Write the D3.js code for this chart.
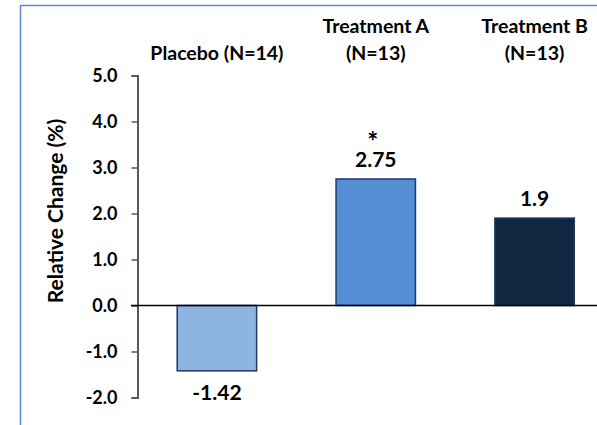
<!DOCTYPE html>
<html>
<head>
<meta charset="utf-8">
<script src="https://cdn.jsdelivr.net/npm/d3@7"></script>
<style>
  body { margin: 0; background: #fff; }
  text { font-family: Lato, "Open Sans", sans-serif; font-weight: bold; fill: #000; }
</style>
</head>
<body>
<svg id="chart" width="597" height="425"></svg>
<script>
// chart data
const groups = ["Placebo", "Treatment A", "Treatment B"];
const groupLabels = [["Placebo (N=14)"], ["Treatment A", "(N=13)"], ["Treatment B", "(N=13)"]];
const values = [-1.42, 2.75, 1.9];
const valueLabels = ["-1.42", "2.75", "1.9"];
const marks = ["", "*", ""];
const colors = ["#8eb4e3", "#558ed5", "#132640"];
const yTicks = [-2, -1, 0, 1, 2, 3, 4, 5];

const svg = d3.select("#chart");

// frame lines (top and left, like the slide border)
svg.append("path")
  .attr("d", "M20.5,425 V5.5 H597")
  .attr("fill", "none")
  .attr("stroke", "#5b8bd0")
  .attr("stroke-width", 1.5);

const x = d3.scaleBand().domain(groups).range([137.5, 614]).paddingInner(0.5).paddingOuter(0.25);
const y = d3.scaleLinear().domain([-2, 5]).range([397.5, 75.5]);

// y axis, hyphen instead of unicode minus like the original
const fmt = d => d3.format(".1f")(d).replace("\u2212", "-");
const yAxis = svg.append("g")
  .attr("transform", "translate(137.5,0)")
  .call(d3.axisLeft(y).tickValues(yTicks).tickFormat(fmt).tickSize(6).tickSizeOuter(6));
yAxis.select(".domain").attr("stroke", "#595959").attr("stroke-width", 2);
yAxis.selectAll(".tick line").attr("stroke", "#595959").attr("stroke-width", 1.5);
yAxis.selectAll(".tick text")
  .attr("x", -20)
  .style("font-size", "18px")
  .style("font-family", "Lato, 'Open Sans', sans-serif")
  .style("font-weight", "bold")
  .attr("fill", "#000");

// axis title
svg.append("text")
  .attr("transform", "translate(56,211) rotate(-90)")
  .attr("text-anchor", "middle")
  .attr("dy", "0.35em")
  .style("font-size", "21px")
  .text("Relative Change (%)");

// bars
svg.selectAll("rect.bar")
  .data(values)
  .join("rect")
  .attr("class", "bar")
  .attr("x", (d, i) => x(groups[i]))
  .attr("width", x.bandwidth())
  .attr("y", d => y(Math.max(0, d)))
  .attr("height", d => Math.abs(y(d) - y(0)))
  .attr("fill", (d, i) => colors[i])
  .attr("stroke", "#1f3864")
  .attr("stroke-width", 1.5);

// zero line
svg.append("line")
  .attr("x1", 131).attr("x2", 597)
  .attr("y1", y(0)).attr("y2", y(0))
  .attr("stroke", "#000")
  .attr("stroke-width", 1.5);

// value labels
svg.selectAll("text.val")
  .data(values)
  .join("text")
  .attr("class", "val")
  .attr("x", (d, i) => x(groups[i]) + x.bandwidth() / 2)
  .attr("y", d => d < 0 ? y(d) + 29 : y(d) - 12.5)
  .attr("text-anchor", "middle")
  .style("font-size", "21px")
  .text((d, i) => valueLabels[i]);

// significance marks
svg.selectAll("text.mark")
  .data(values)
  .join("text")
  .attr("class", "mark")
  .attr("x", (d, i) => x(groups[i]) + x.bandwidth() / 2 - 3)
  .attr("y", d => y(d) - 28)
  .attr("text-anchor", "middle")
  .style("font-size", "26px")
  .text((d, i) => marks[i]);

// group headers
groupLabels.forEach((lines, i) => {
  const cx = x(groups[i]) + x.bandwidth() / 2;
  const t = svg.append("text")
    .attr("text-anchor", "middle")
    .style("font-size", "19.5px");
  const startY = lines.length === 1 ? 60 : 33;
  lines.forEach((ln, j) => {
    t.append("tspan").attr("x", cx).attr("y", startY + j * 27).text(ln);
  });
});
</script>
</body>
</html>
